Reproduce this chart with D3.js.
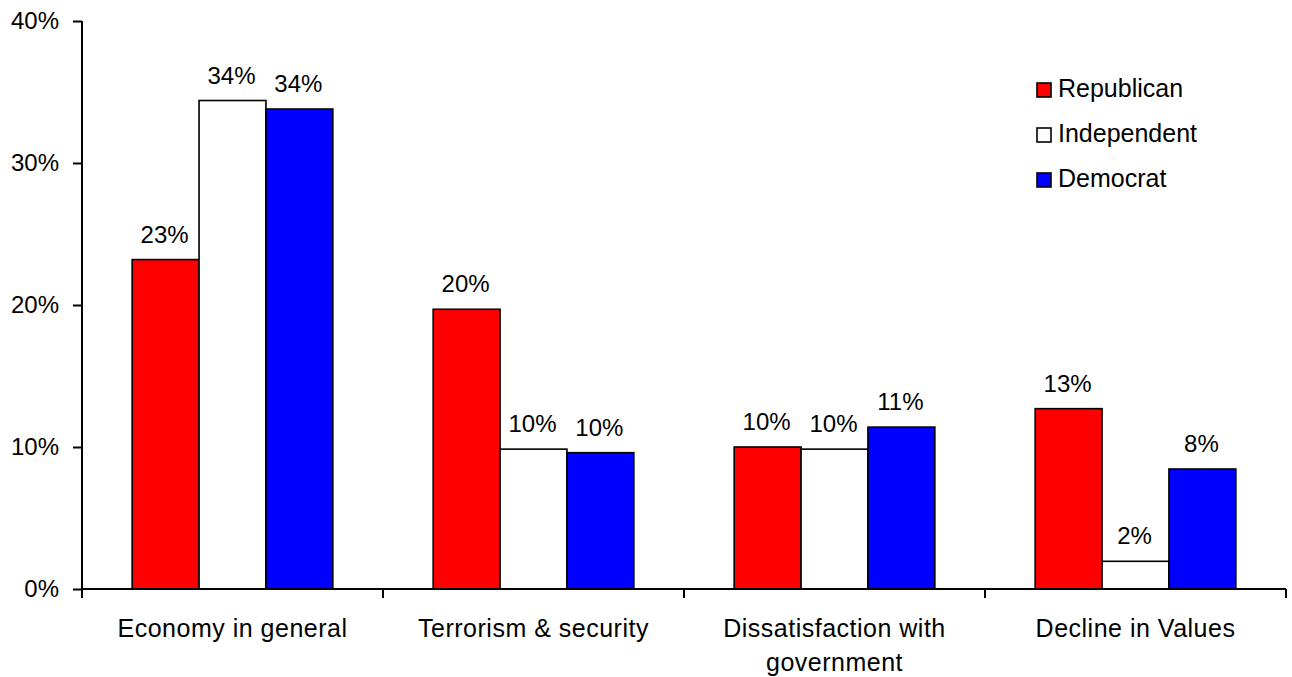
<!DOCTYPE html>
<html>
<head>
<meta charset="utf-8">
<script src="https://cdn.jsdelivr.net/npm/d3@7"></script>
<style>
  html, body { margin: 0; padding: 0; background: #fff; }
  svg text { font-family: "Liberation Sans", Arial, Helvetica, sans-serif; fill: #000; }
</style>
</head>
<body>
<svg id="chart" width="1292" height="677"></svg>
<script>
// Top concerns by party identification (share of respondents)
const categories = [
  ["Economy in general"],
  ["Terrorism & security"],
  ["Dissatisfaction with", "government"],
  ["Decline in Values"]
];
const seriesNames = ["Republican", "Independent", "Democrat"];
const republican  = [23.2, 19.7, 10.0, 12.7];
const independent = [34.4, 9.85, 9.85, 1.95];
const democrat    = [33.8, 9.6, 11.4, 8.45];
const yTicks = [0, 10, 20, 30, 40];
const seriesColors = ["#FF0000", "#FFFFFF", "#0000FF"];

const seriesValues = [republican, independent, democrat];
const catKeys = categories.map(c => c.join(" "));

const svg = d3.select("#chart");
const margin = { left: 82, right: 6, top: 21, bottom: 88 };
const W = 1292, H = 677;
const x0 = margin.left, x1 = W - margin.right;
const yTop = margin.top, yBottom = H - margin.bottom;

const x = d3.scaleBand().domain(catKeys).range([x0, x1]).padding(0);
const bw = x.bandwidth();
const xs = d3.scaleBand().domain(seriesNames).range([bw / 6, bw * 5 / 6]).padding(0);
const y = d3.scaleLinear().domain([0, 40]).range([yBottom, yTop]);

const FS = 24;
const FS_CAT = 25;

// Bars
const groups = svg.append("g")
  .selectAll("g")
  .data(catKeys)
  .join("g")
  .attr("transform", d => `translate(${x(d)},0)`);

groups.selectAll("rect")
  .data((d, i) => seriesNames.map((s, j) => ({ s, j, v: seriesValues[j][i] })))
  .join("rect")
  .attr("x", d => xs(d.s))
  .attr("y", d => y(d.v))
  .attr("width", xs.bandwidth())
  .attr("height", d => y(0) - y(d.v))
  .attr("fill", d => seriesColors[d.j])
  .attr("stroke", "#000")
  .attr("stroke-width", 1.6);

// Value labels
groups.selectAll("text.val")
  .data((d, i) => seriesNames.map((s, j) => ({ s, j, v: seriesValues[j][i] })))
  .join("text")
  .attr("class", "val")
  .attr("x", d => xs(d.s) + xs.bandwidth() / 2 - 1)
  .attr("y", d => y(d.v) - 17)
  .attr("text-anchor", "middle")
  .attr("font-size", FS)
  .text(d => Math.round(d.v) + "%");

// Y axis
const yAxis = d3.axisLeft(y)
  .tickValues(yTicks)
  .tickSize(9)
  .tickPadding(14)
  .tickFormat(d => d + "%");
const gy = svg.append("g")
  .attr("transform", `translate(${x0},0)`)
  .call(yAxis);
gy.select(".domain").attr("stroke", "#000").attr("stroke-width", 2)
  .attr("d", `M0,${yTop}V${yBottom}`);
gy.selectAll(".tick line").attr("stroke", "#000").attr("stroke-width", 2);
gy.selectAll(".tick text")
  .attr("font-size", FS)
  .attr("font-family", "Liberation Sans, Arial, sans-serif")
  .attr("fill", "#000");

// X axis: tick marks at category boundaries
const gx = svg.append("g").attr("transform", `translate(0,${yBottom})`);
gx.append("path")
  .attr("d", `M${x0},0H${x1}`)
  .attr("stroke", "#000")
  .attr("stroke-width", 2)
  .attr("fill", "none");
const bounds = catKeys.map(k => x(k)).concat([x1]);
gx.selectAll("line.bt")
  .data(bounds)
  .join("line")
  .attr("class", "bt")
  .attr("x1", d => d).attr("x2", d => d)
  .attr("y1", 0).attr("y2", 9)
  .attr("stroke", "#000")
  .attr("stroke-width", 2);

// Category labels
const catText = gx.selectAll("text.cat")
  .data(categories)
  .join("text")
  .attr("class", "cat")
  .attr("x", (d, i) => x(catKeys[i]) + bw / 2)
  .attr("y", 48)
  .attr("text-anchor", "middle")
  .attr("font-size", FS_CAT)
  .attr("letter-spacing", 0.5);
catText.selectAll("tspan")
  .data(d => d)
  .join("tspan")
  .attr("x", function () { return d3.select(this.parentNode).attr("x"); })
  .attr("dy", (d, i) => i === 0 ? 0 : 34)
  .text(d => d);

// Legend
const legend = svg.append("g")
  .selectAll("g")
  .data(seriesNames)
  .join("g")
  .attr("transform", (d, i) => `translate(1037,${83 + i * 45})`);
legend.append("rect")
  .attr("width", 14).attr("height", 14)
  .attr("fill", (d, i) => seriesColors[i])
  .attr("stroke", "#000")
  .attr("stroke-width", 1.6);
legend.append("text")
  .attr("x", 21)
  .attr("y", 14)
  .attr("font-size", FS_CAT)
  .text(d => d);
</script>
</body>
</html>
